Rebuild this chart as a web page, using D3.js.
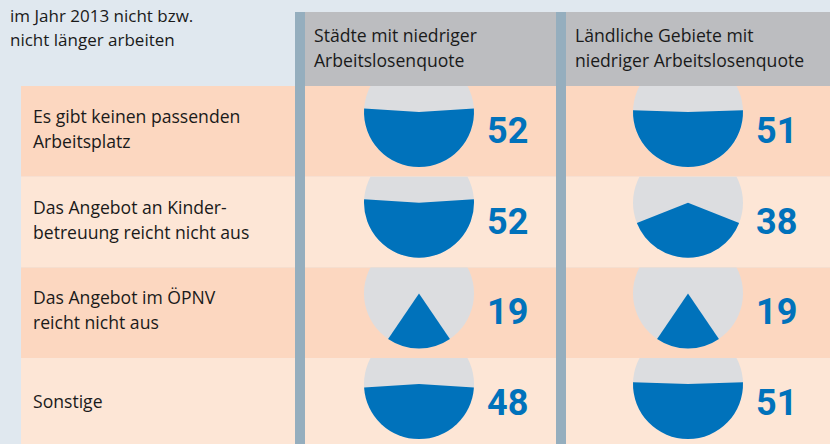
<!DOCTYPE html>
<html>
<head>
<meta charset="utf-8">
<script src="https://cdn.jsdelivr.net/npm/d3@7"></script>
<style>
  body { margin: 0; background: #e0e8ef; }
  svg { display: block; font-family: "Open Sans", Roboto, sans-serif; }
</style>
</head>
<body>
<div id="chart"></div>
<script>
// Width and height
var chartWidth  = 830;
var chartHeight = 444;

// Data
var titleLines = ['im Jahr 2013 nicht bzw.', 'nicht länger arbeiten'];
var reasons = [
    ['Es gibt keinen passenden', 'Arbeitsplatz'],
    ['Das Angebot an Kinder-', 'betreuung reicht nicht aus'],
    ['Das Angebot im ÖPNV', 'reicht nicht aus'],
    ['Sonstige']
];
var regions = [
    ['Städte mit niedriger', 'Arbeitslosenquote'],
    ['Ländliche Gebiete mit', 'niedriger Arbeitslosenquote']
];
var staedte   = [52, 52, 19, 48];
var laendlich = [51, 38, 19, 51];
var values = [staedte, laendlich];

var rowColors = ['#fcd7c0', '#fde6d6'];

// Scales
var rowTop = 86;
var y = d3.scaleBand()
    .domain(d3.range(reasons.length))
    .range([rowTop, rowTop + 90.7 * reasons.length])
    .padding(0);
var colX = d3.scaleOrdinal().domain([0, 1]).range([295, 556]);
var colW = d3.scaleOrdinal().domain([0, 1]).range([261, 274]);
var angle = d3.scaleLinear().domain([0, 100]).range([0, Math.PI]);

var radius = 55;
var arc = d3.arc().innerRadius(0).outerRadius(radius);

function rowHeight(i){
    return i === reasons.length - 1 ? chartHeight - y(i) : y.bandwidth();
}

// Create SVG
var svg = d3.select('#chart')
    .append('svg')
    .attr('width', chartWidth)
    .attr('height', chartHeight);

svg.append('rect')
    .attr('width', chartWidth).attr('height', chartHeight)
    .attr('fill', '#e0e8ef');

// title
svg.append('text')
    .attr('font-size', 17)
    .attr('fill', '#1a1a1a')
    .selectAll('tspan')
    .data(titleLines)
    .enter()
    .append('tspan')
    .attr('x', 10)
    .attr('y', function(d, i){ return 22 + i * 24; })
    .text(function(d){ return d; });

// row backgrounds
svg.selectAll('rect.row')
    .data(reasons)
    .enter()
    .append('rect')
    .attr('class', 'row')
    .attr('x', 21)
    .attr('y', function(d, i){ return y(i); })
    .attr('width', chartWidth - 21)
    .attr('height', function(d, i){ return rowHeight(i); })
    .attr('fill', function(d, i){ return rowColors[i % 2]; });

// clip paths, one per row
var defs = svg.append('defs');
reasons.forEach(function(d, i){
    defs.append('clipPath')
        .attr('id', 'clip' + i)
        .append('rect')
        .attr('x', 0)
        .attr('y', y(i))
        .attr('width', chartWidth)
        .attr('height', rowHeight(i));
});

// row labels
svg.selectAll('text.label')
    .data(reasons)
    .enter()
    .append('text')
    .attr('class', 'label')
    .attr('font-size', 17.6)
    .attr('fill', '#1a1a1a')
    .each(function(d, i){
        var base = y(i) + (d.length === 1 ? 50 : 37);
        d3.select(this).selectAll('tspan')
            .data(d)
            .enter()
            .append('tspan')
            .attr('x', 33)
            .attr('y', function(l, j){ return base + j * 25; })
            .text(function(l){ return l; });
    });

// column headers, pies and stripes
regions.forEach(function(r, c){
    var x0 = colX(c);
    svg.append('rect')
        .attr('x', x0 + 10)
        .attr('y', 12)
        .attr('width', colW(c) - 10)
        .attr('height', rowTop - 12)
        .attr('fill', '#bcbdc0');
    svg.append('text')
        .attr('font-size', 17.6)
        .attr('fill', '#1a1a1a')
        .selectAll('tspan')
        .data(r)
        .enter()
        .append('tspan')
        .attr('x', x0 + 19)
        .attr('y', function(d, j){ return 42 + j * 25; })
        .text(function(d){ return d; });

    var cx = x0 + 124 + c * 8;
    values[c].forEach(function(v, i){
        var cy = y(i) + 26;
        var g = svg.append('g')
            .attr('clip-path', 'url(#clip' + i + ')')
            .append('g')
            .attr('transform', 'translate(' + cx + ',' + cy + ')');
        g.append('circle')
            .attr('r', radius)
            .attr('fill', '#dcdde0');
        g.append('path')
            .attr('d', arc({startAngle: Math.PI - angle(v), endAngle: Math.PI + angle(v)}))
            .attr('fill', '#0072bb');
        svg.append('text')
            .attr('x', cx + 68)
            .attr('y', cy + 31)
            .attr('font-family', 'Roboto, sans-serif')
            .attr('font-size', 36)
            .attr('font-weight', 'bold')
            .attr('fill', '#0072bb')
            .text(v);
    });

    svg.append('rect')
        .attr('x', x0)
        .attr('y', 12)
        .attr('width', 10)
        .attr('height', chartHeight - 12)
        .attr('fill', '#95aebe');
});
</script>
</body>
</html>
